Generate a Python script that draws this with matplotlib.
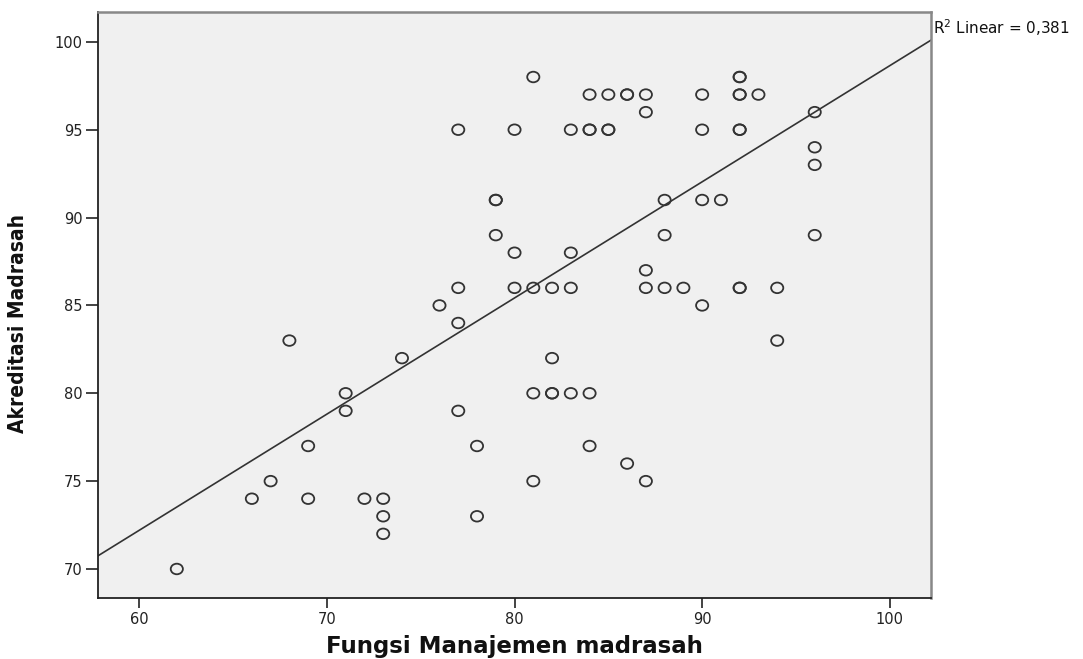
import numpy as np
import matplotlib.pyplot as plt
from matplotlib.markers import MarkerStyle
from matplotlib.transforms import Affine2D

# Fungsi Manajemen madrasah (x) vs Akreditasi Madrasah (y)
fungsi = [62, 66, 67, 68, 69, 69, 71, 71, 72, 73, 73, 73, 74, 76,
          77, 77, 77, 77, 78, 78, 79, 79, 79, 80, 80, 80, 81, 81, 81, 81,
          82, 82, 82, 82, 83, 83, 83, 83, 84, 84, 84, 84, 84, 85, 85, 85,
          86, 86, 86, 87, 87, 87, 87, 87, 88, 88, 88, 89,
          90, 90, 90, 90, 91, 92, 92, 92, 92, 92, 92, 92, 92,
          93, 94, 94, 96, 96, 96, 96]
akreditasi = [70, 74, 75, 83, 77, 74, 80, 79, 74, 74, 73, 72, 82, 85,
              95, 86, 84, 79, 77, 73, 91, 91, 89, 95, 88, 86, 98, 86, 80, 75,
              86, 82, 80, 80, 95, 88, 86, 80, 97, 95, 95, 80, 77, 97, 95, 95,
              97, 97, 76, 97, 96, 87, 86, 75, 91, 89, 86, 86,
              97, 95, 91, 85, 91, 98, 98, 97, 97, 95, 95, 86, 86,
              97, 86, 83, 96, 94, 93, 89]

# fit line as SPSS drew it (values at the two ends of the x axis)
fit_x = [57.8, 102.2]
fit_y = [70.75, 100.1]
r2_label = "R$^2$ Linear = 0,381"

x_min, x_max = 57.8, 102.2
y_min, y_max = 68.35, 101.7

fig = plt.figure(figsize=(10.83, 6.59), dpi=100)
ax = fig.add_axes([0.0905, 0.0926, 0.7692, 0.8892])
ax.set_facecolor("#f0f0f0")

# the source picture is a bit stretched sideways, so circles come out as ellipses
oval = MarkerStyle("o", transform=Affine2D().scale(1.15, 1.0))
ax.scatter(fungsi, akreditasi, s=58, marker=oval, facecolors="none",
           edgecolors="#333333", linewidths=1.3, zorder=3)

ax.plot(fit_x, fit_y, color="#333333", lw=1.2, zorder=2)

ax.set_xlim(x_min, x_max)
ax.set_ylim(y_min, y_max)
ax.set_xticks([60, 70, 80, 90, 100])
ax.set_yticks([70, 75, 80, 85, 90, 95, 100])

for side in ["left", "bottom"]:
    ax.spines[side].set_color("#222222")
    ax.spines[side].set_linewidth(1.3)
for side in ["top", "right"]:
    ax.spines[side].set_color("#888888")
    ax.spines[side].set_linewidth(1.8)

ax.tick_params(axis="x", direction="out", length=7, width=1.2, color="#222222",
               labelsize=10.5, labelcolor="#222222", pad=3)
ax.tick_params(axis="y", direction="out", length=9, width=1.2, color="#222222",
               labelsize=10.5, labelcolor="#222222", pad=2)

ax.set_xlabel("Fungsi Manajemen madrasah", fontsize=16.5, fontweight="bold",
              family="DejaVu Sans", color="#111111", va="center")
ax.xaxis.set_label_coords(0.4994, -0.082)
ax.set_ylabel("Akreditasi Madrasah", fontsize=15, fontweight="bold",
              family="DejaVu Sans", fontstretch="condensed",
              color="#111111", va="center")
ax.yaxis.set_label_coords(-0.096, 0.468)

ax.text(1.002, 0.974, r2_label, transform=ax.transAxes, ha="left", va="center",
        fontsize=11, family="DejaVu Sans", color="#111111")

fig.savefig("out.png", dpi=100)
